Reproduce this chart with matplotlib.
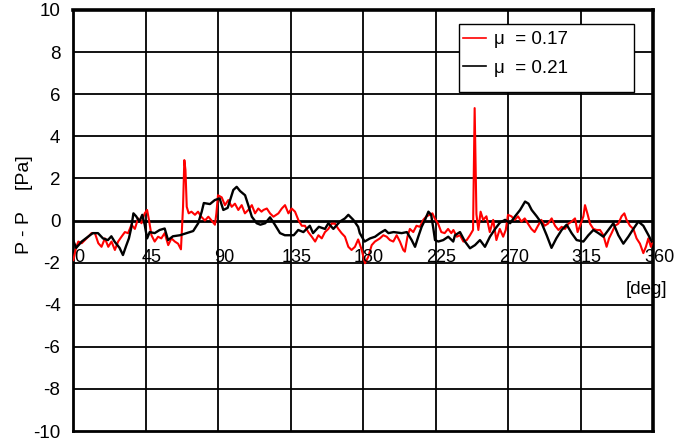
import matplotlib
matplotlib.use("Agg")
import matplotlib.pyplot as plt
import matplotlib.transforms as mtransforms
from matplotlib.patches import Rectangle

plt.rcParams["font.family"] = ["Liberation Sans", "DejaVu Sans"]
plt.rcParams["axes.unicode_minus"] = False

# pressure fluctuation vs crank angle, two friction coefficients
red_deg = [0.2, 1.9, 3.3, 5.4, 7.4, 9.5, 11.5, 13.6, 15.7, 17.7, 19.8, 21.9, 23.9, 26, 28,
           30.1, 32.2, 34.2, 36.3, 38.4, 40.4, 42.5, 44.5, 46, 47.2, 48.7, 50.7, 52.8, 54.8,
           56.9, 59.1, 61.1, 63.2, 65.2, 67, 68.3, 69.1, 69.8, 70.6, 71.8, 73.5, 75.7, 77.6,
           79.6, 81.9, 84, 86, 88.1, 89, 90, 92.3, 94.3, 96.4, 98.5, 100.5, 102.6, 104.7,
           106.7, 108.8, 111, 113, 115, 117, 118.2, 120.3, 122.3, 124.4, 127.5, 129.6, 131.6,
           133.7, 135.7, 137.8, 139.9, 142, 144, 146, 148.2, 150.3, 152.3, 154.4, 156.4,
           158.5, 160.5, 162.6, 164.7, 166.7, 168.8, 170.9, 172.9, 175, 177, 179.2, 181.2,
           183.3, 185.4, 187.4, 190.5, 192.6, 194.7, 196.7, 198.8, 200.9, 202.9, 205, 206,
           207.6, 209.1, 211.2, 213.2, 215.3, 217.4, 219.4, 221.5, 223.1, 224.5, 226.6,
           228.6, 230.7, 232.8, 234.8, 236.1, 238.2, 240.2, 242.3, 244.4, 246.4, 248.3,
           249.3, 250.4, 251.6, 253, 254.6, 256.6, 258.7, 260.8, 262.8, 264.9, 267, 268.6,
           270, 272.1, 274.2, 276.2, 278.3, 280.4, 282.4, 284.5, 286.5, 288.6, 290.7, 292.7,
           294.8, 297.1, 299.2, 301.3, 303.3, 305.4, 307.5, 309.5, 311.6, 313.2, 314.7,
           316.8, 317.8, 319.5, 320.9, 323, 325, 327.1, 329.2, 331.2, 332.7, 334.3, 336.4,
           338.5, 340.5, 342.2, 343.6, 345.7, 347.8, 349.8, 351.9, 354, 355.6, 357.1, 358.7,
           359.5]
red_val = [-1.88, -1.3, -1.0, -1.08, -0.93, -0.77, -0.6, -0.6, -1.08, -1.25, -0.85, -1.25,
           -1.0, -1.4, -1.0, -0.77, -0.55, -0.6, -0.2, -0.4, 0.1, -0.13, 0.34, 0.5, 0.0,
           -0.7, -1.0, -0.77, -0.85, -0.6, -1.17, -0.85, -1.0, -1.1, -1.37, 0.65, 2.87, 2.4,
           0.65, 0.34, 0.42, 0.27, 0.42, 0.18, 0.0, 0.18, 0.0, -0.2, 0.34, 1.2, 1.1, 0.73,
           0.97, 0.65, 0.8, 0.5, 0.73, 0.34, 0.5, 0.73, 0.34, 0.57, 0.42, 0.5, 0.57, 0.34,
           0.18, 0.34, 0.57, 0.73, 0.34, 0.57, 0.42, 0.02, -0.25, -0.25, -0.55, -0.77, -1.0,
           -0.7, -0.85, -0.55, -0.4, -0.15, -0.15, -0.4, -0.6, -0.77, -1.25, -1.4, -1.25,
           -0.9, -1.4, -2.03, -1.72, -1.17, -1.0, -0.85, -0.7, -0.77, -0.93, -1.0, -0.7,
           -1.0, -1.4, -1.48, -0.77, -0.4, -0.55, -0.25, -0.3, 0.03, 0.2, 0.27, 0.34, 0.1,
           -0.15, -0.55, -0.6, -0.4, -0.6, -0.45, -0.77, -0.7, -1.0, -0.93, -0.7, -0.45,
           5.34, 0.3, -0.45, 0.42, 0.03, 0.2, -0.55, 0.03, -0.93, -0.4, -0.77, -0.45, 0.27,
           0.2, 0.03, 0.2, -0.05, 0.1, -0.15, -0.4, -0.55, -0.25, 0.03, -0.25, -0.15, 0.1,
           -0.25, -0.45, -0.3, -0.4, -0.15, -0.05, 0.1, -0.55, -0.25, 0.2, 0.73, 0.27,
           -0.15, -0.4, -0.45, -0.45, -0.7, -1.25, -0.85, -0.6, -0.25, -0.15, 0.2, 0.34,
           0.03, -0.25, -0.4, -0.85, -1.1, -1.55, -1.25, -0.85, -1.25, -1.0]

black_deg = [0, 2, 5.4, 9.3, 12.3, 15.5, 18.6, 21.7, 23.8, 25.8, 28.9, 31, 33, 34.7, 36.1,
             37.5, 39.2, 41.2, 43, 44.5, 46, 47.6, 50.7, 53.8, 56.9, 59, 62, 66.4, 70.6,
             74.6, 77.7, 79.9, 81.2, 85, 88, 91, 93.3, 96, 99.5, 101.6, 103.7, 106.8, 108.9,
             111, 114, 116.3, 119.3, 122.3, 125.3, 128.5, 131.5, 134.7, 137, 139.8, 143, 147,
             149, 152.6, 156.4, 158.5, 161.6, 165.7, 168.8, 170.9, 174, 177, 178, 181, 184.4,
             187.5, 190.5, 193.7, 195.8, 199, 204, 207.2, 210.2, 212.3, 214.3, 216.4, 218.5,
             220.6, 222.3, 223.7, 224.7, 226.8, 229.8, 232.9, 236, 237.1, 240.2, 243.3,
             246.4, 249.5, 252.6, 255.7, 258.8, 262, 265, 268.2, 271.3, 274.4, 277.5, 280.6,
             282.7, 284.7, 287.8, 290.9, 294, 297, 300, 303.3, 306.4, 309.5, 312.6, 316.8,
             319.9, 323, 326.1, 329.2, 332.3, 335.4, 338.5, 341.6, 344.7, 347.8, 350.9, 354,
             357.2, 359.2]
black_val = [-0.93, -1.3, -1.0, -0.77, -0.6, -0.6, -0.85, -0.93, -0.75, -1.0, -1.3, -1.64,
             -1.2, -0.85, -0.37, 0.34, 0.2, -0.05, 0.27, -0.2, -0.85, -0.55, -0.6, -0.45,
             -0.38, -0.93, -0.75, -0.7, -0.6, -0.5, -0.13, 0.42, 0.83, 0.78, 0.97, 1.05, 0.5,
             0.6, 1.45, 1.6, 1.4, 1.2, 0.7, 0.18, -0.13, -0.2, -0.13, 0.15, -0.2, -0.6, -0.7,
             -0.7, -0.7, -0.45, -0.55, -0.25, -0.6, -0.3, -0.4, -0.13, -0.4, -0.05, 0.1,
             0.27, 0.03, -0.3, -0.6, -1.0, -0.85, -0.77, -0.6, -0.45, -0.6, -0.55, -0.6,
             -0.55, -0.93, -1.25, -0.77, -0.3, 0.03, 0.42, 0.27, -0.4, -0.93, -1.0, -0.93,
             -0.77, -1.0, -0.7, -0.55, -1.0, -1.32, -1.17, -0.93, -1.25, -0.77, -0.4, -0.1,
             0.03, -0.13, 0.2, 0.5, 0.9, 0.8, 0.5, 0.2, -0.13, -0.7, -1.3, -0.85, -0.45,
             -0.2, -0.6, -0.93, -1.0, -0.7, -0.45, -0.6, -0.77, -0.45, -0.13, -0.7, -1.1,
             -0.77, -0.4, -0.05, -0.25, -0.7, -1.0]

x_ticks = [0, 45, 90, 135, 180, 225, 270, 315, 360]
y_ticks = [-10, -8, -6, -4, -2, 0, 2, 4, 6, 8, 10]
labels = ["\u03bc  = 0.17", "\u03bc  = 0.21"]

fig = plt.figure(figsize=(6.93, 4.47), dpi=100)
ax = fig.add_axes([73 / 693, 16 / 447, 580 / 693, 421 / 447])
ax.set_xlim(0, 360)
ax.set_ylim(-10, 10)

ax.plot(red_deg, red_val, color="#ff0000", lw=1.5, label=labels[0], zorder=3)
ax.plot(black_deg, black_val, color="black", lw=1.7, label=labels[1], zorder=3)

# grid drawn by hand so the zero line can be heavier
for x in x_ticks[1:-1]:
    ax.axvline(x, color="black", lw=1.3, zorder=1)
for y in y_ticks[1:-1]:
    ax.axhline(y, color="black", lw=2.0 if y == 0 else 1.3, zorder=1)

for side in ax.spines.values():
    side.set_linewidth(2.0)
ax.spines["top"].set_linewidth(2.6)
ax.spines["right"].set_linewidth(2.6)

ax.set_xticks(x_ticks)
ax.set_xticklabels([])
ax.set_yticks(y_ticks)
ax.tick_params(axis="both", length=0)
ax.tick_params(axis="y", labelsize=13.5, pad=9)

# degree labels sit on the -2 grid line, inside the plot
shift = mtransforms.offset_copy(ax.transData, fig=fig, x=6, y=1, units="dots")
for x in x_ticks:
    ax.text(x, -2, str(x), transform=shift, ha="center", va="baseline",
            fontsize=13, zorder=4)

ax.text(356, -3.3, "[deg]", ha="center", va="center", fontsize=13.5)
fig.text(25 / 693, 1 - 205 / 447, "P - P    [Pa]", rotation=90,
         ha="center", va="center", fontsize=14)

# legend box
ax.add_patch(Rectangle((386 / 580, (431 - 92) / 421), 175 / 580, 68 / 421,
                       transform=ax.transAxes, facecolor="white", edgecolor="black",
                       lw=1.0, zorder=5))
leg = ax.legend(loc="upper left", bbox_to_anchor=((463 - 73) / 580, (431 - 31) / 421),
                frameon=False, fontsize=13.5, borderpad=0, borderaxespad=0,
                handlelength=1.2, handletextpad=0.45, labelspacing=0.62)
leg.set_zorder(6)
for h in leg.get_lines():
    h.set_linewidth(1.2)

fig.savefig("out.png", dpi=100)
